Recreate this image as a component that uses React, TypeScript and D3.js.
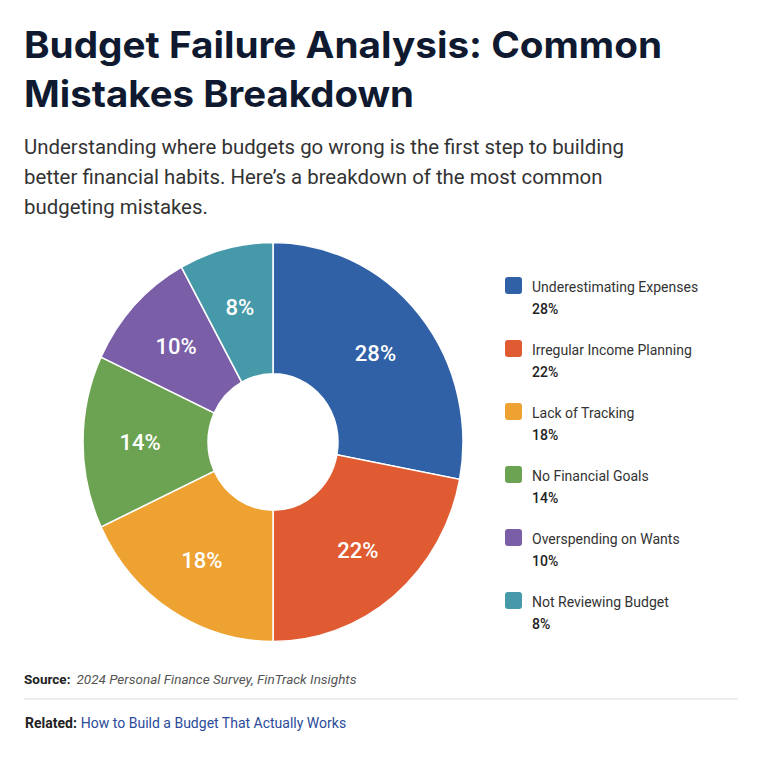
import React from 'react'
import * as d3 from 'd3'

const categories = [
  'Underestimating Expenses',
  'Irregular Income Planning',
  'Lack of Tracking',
  'No Financial Goals',
  'Overspending on Wants',
  'Not Reviewing Budget',
]
const shares = [28, 22, 18, 14, 10, 8]
const colors = ['#3061a7', '#e05b31', '#eda232', '#6ca352', '#7a5ea8', '#4699a9']

const titleLines = ['Budget Failure Analysis: Common', 'Mistakes Breakdown']
const subtitleLines = [
  'Understanding where budgets go wrong is the first step to building',
  'better financial habits. Here\u2019s a breakdown of the most common',
  'budgeting mistakes.',
]

const cx = 273
const cy = 442
const outerR = 190
const innerR = 65
const squash = 1.05 // reference pie is a little taller than wide
const labelR = 133

export default function App() {
  const pie = d3.pie<number>().sort(null).value((d) => d)
  const arcs = pie(shares)
  const arc = d3.arc<d3.PieArcDatum<number>>().innerRadius(innerR).outerRadius(outerR)

  const legendY = d3.scaleBand<number>().domain(d3.range(categories.length)).range([277, 277 + 63 * 6])

  return (
    <svg
      width={768}
      height={768}
      style={{position: 'absolute', left: 0, top: 0, background: '#fff'}}
      fontFamily="Roboto, 'Noto Sans', sans-serif">
      <rect width={768} height={768} fill="#fff" />
      <g fontFamily="Inter, Roboto, sans-serif" fontWeight={700} fontSize={37} fill="#0f1a30">
        <text x={24} y={58} textLength={638} lengthAdjust="spacingAndGlyphs">
          {titleLines[0]}
        </text>
        <text x={24} y={107} textLength={390} lengthAdjust="spacingAndGlyphs">
          {titleLines[1]}
        </text>
      </g>
      <g fontSize={20.4} fill="#333">
        {subtitleLines.map((l, i) => (
          <text key={i} x={24} y={154 + i * 30}>
            {l}
          </text>
        ))}
      </g>

      <g transform={`translate(${cx},${cy}) scale(1,${squash})`}>
        {arcs.map((a, i) => (
          <path
            key={i}
            d={arc(a) || ''}
            fill={colors[i]}
            stroke="#fff"
            strokeWidth={1.5}
            vectorEffect="non-scaling-stroke"
          />
        ))}
      </g>
      <g transform={`translate(${cx},${cy})`} fill="#fff" fontSize={22} fontWeight={500} textAnchor="middle">
        {arcs.map((a, i) => {
          const m = (a.startAngle + a.endAngle) / 2
          return (
            <text key={i} x={labelR * Math.sin(m)} y={-labelR * Math.cos(m) * squash} dy="0.36em">
              {shares[i]}%
            </text>
          )
        })}
      </g>

      <g>
        {categories.map((c, i) => {
          const y = legendY(i) || 0
          return (
            <g key={c} transform={`translate(505,${y})`}>
              <rect width={17} height={17} rx={3} fill={colors[i]} />
              <text x={27} y={15} fontSize={14} fill="#333">
                {c}
              </text>
              <text x={27} y={37} fontSize={14} fontWeight={500} fill="#222">
                {shares[i]}%
              </text>
            </g>
          )
        })}
      </g>

      <text x={24} y={684} fontSize={13.5}>
        <tspan fontWeight={700} fill="#222">Source:</tspan>
        <tspan dx={6} fontStyle="italic" fill="#555">2024 Personal Finance Survey, FinTrack Insights</tspan>
      </text>
      <line x1={24} x2={738} y1={699} y2={699} stroke="#d9d9d9" strokeWidth={1} />
      <text x={25} y={728} fontSize={14}>
        <tspan fontWeight={700} fill="#222">Related:</tspan>
        <tspan dx={4} fill="#2b4a9a">How to Build a Budget That Actually Works</tspan>
      </text>
    </svg>
  )
}
